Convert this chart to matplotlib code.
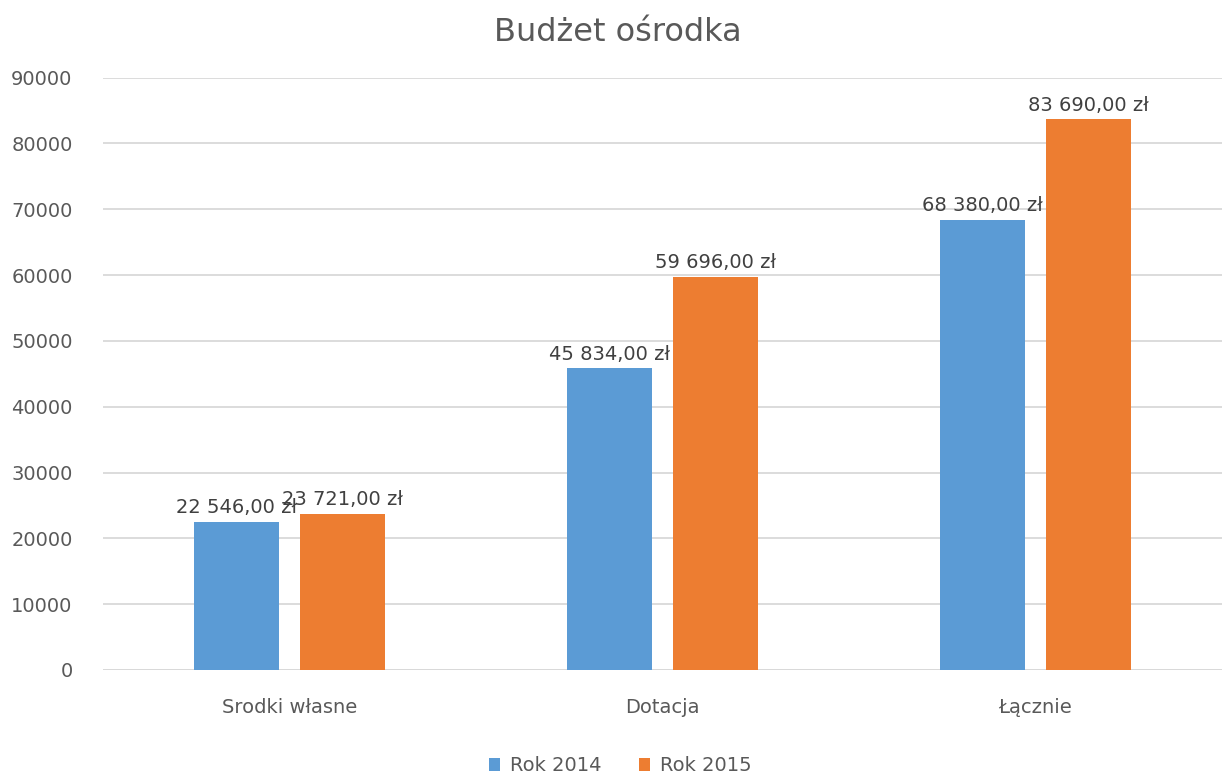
import numpy as np
import matplotlib.pyplot as plt

kategorie = ['Srodki własne', 'Dotacja', 'Łącznie']
rok_2014 = [22546, 45834, 68380]
rok_2015 = [23721, 59696, 83690]
serie = ['Rok 2014', 'Rok 2015']
kolory = ['#5B9BD5', '#ED7D31']


def zl(v):
    return f'{v:,}'.replace(',', ' ') + ',00 zł'


plt.rcParams['font.family'] = ['DejaVu Sans']

fig = plt.figure(figsize=(12.28, 7.76), dpi=100)
ax = fig.add_axes([0.084, 0.1366, 0.911, 0.7634])

x = np.arange(len(kategorie))
szer = 0.228
for i, (wartosci, kolor, nazwa) in enumerate(zip([rok_2014, rok_2015], kolory, serie)):
    poz = x + (i - 0.5) * 0.283
    slupki = ax.bar(poz, wartosci, szer, color=kolor, label=nazwa, zorder=3)
    for s, v in zip(slupki, wartosci):
        ax.text(s.get_x() + s.get_width() / 2, v + 700, zl(v),
                ha='center', va='bottom', fontsize=14, color='#404040', zorder=4)

ax.set_xlim(-0.5, 2.5)
ax.set_ylim(0, 90000)
ax.set_yticks(np.arange(0, 90001, 10000))
ax.set_xticks(x)
ax.set_xticklabels(kategorie)
ax.tick_params(axis='both', length=0, labelsize=14, labelcolor='#595959')
ax.tick_params(axis='y', pad=22)
ax.tick_params(axis='x', pad=20)
ax.yaxis.grid(True, color='#D9D9D9', linewidth=1.3, zorder=0)
for sp in ax.spines.values():
    sp.set_visible(False)
ax.axhline(0, color='#D9D9D9', linewidth=1.3, zorder=1)

fig.text(0.503, 0.958, 'Budżet ośrodka', ha='center', va='center',
         fontsize=23, color='#595959')

fig.legend(loc='center', bbox_to_anchor=(0.505, 0.013), ncol=2, frameon=False,
           fontsize=14, handlelength=0.6, handleheight=0.6, handletextpad=0.5,
           columnspacing=1.9, labelcolor='#595959')

fig.savefig('out.png', dpi=100)
